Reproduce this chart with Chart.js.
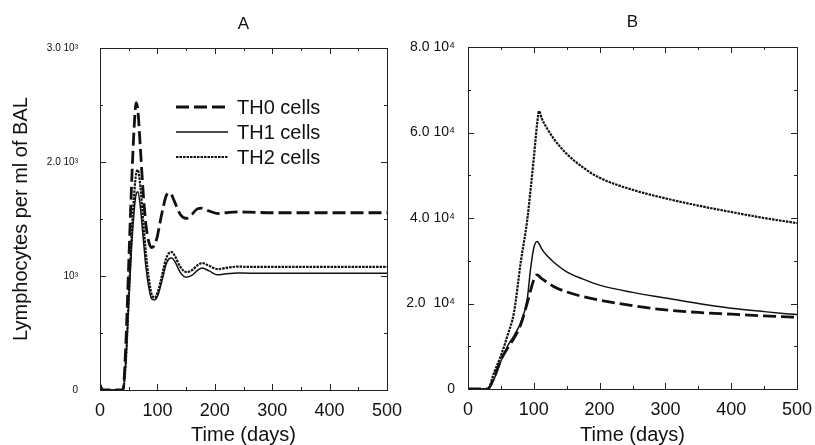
<!DOCTYPE html>
<html>
<head>
<title>TH cells</title>
<script src="https://cdn.jsdelivr.net/npm/chart.js"></script>
<style>
  body { margin: 0; background: #fff; }
  #chartA { position: absolute; left: 0; top: 0; }
  #chartB { position: absolute; left: 400px; top: 0; }
</style>
</head>
<body>
<canvas id="chartA" width="420" height="445"></canvas>
<canvas id="chartB" width="415" height="445"></canvas>
<script>
// ---- data ----
const seriesNames = ['TH0 cells', 'TH1 cells', 'TH2 cells'];

const timeA = [0, 5, 10, 40, 45, 50, 55, 60, 63, 66, 70, 75, 80, 85, 90, 95, 100, 105, 110, 115, 120, 125, 130, 140, 150, 160, 170, 178, 190, 205, 220, 240, 260, 300, 400, 500];
const th0A = [40, 0, 0, 0, 400, 1100, 1800, 2350, 2520, 2450, 2150, 1750, 1450, 1300, 1250, 1270, 1350, 1480, 1600, 1700, 1730, 1710, 1650, 1540, 1505, 1540, 1590, 1595, 1570, 1548, 1555, 1562, 1560, 1555, 1555, 1555];
const th1A = [50, 0, 0, 0, 250, 750, 1250, 1600, 1720, 1740, 1620, 1350, 1080, 900, 800, 790, 820, 900, 1000, 1100, 1150, 1158, 1130, 1030, 990, 1005, 1050, 1070, 1045, 1010, 1020, 1027, 1025, 1025, 1025, 1025];
const th2A = [50, 0, 0, 0, 250, 800, 1350, 1750, 1900, 1930, 1800, 1500, 1200, 980, 840, 810, 850, 940, 1050, 1150, 1200, 1210, 1180, 1080, 1035, 1050, 1095, 1114, 1090, 1060, 1072, 1082, 1080, 1080, 1080, 1080];

const timeB = [0, 20, 30, 40, 50, 60, 70, 80, 90, 95, 100, 105, 108, 112, 120, 130, 150, 175, 200, 250, 300, 350, 400, 450, 500];
const th0B = [0, 0, 0, 2800, 6800, 9500, 11900, 15000, 20100, 23000, 25500, 26700, 26400, 25800, 25000, 24000, 22700, 21600, 20800, 19500, 18500, 17900, 17500, 17100, 16800];
const th1B = [0, 0, 0, 2500, 6500, 10000, 12500, 15500, 21000, 28000, 33000, 34500, 34000, 32800, 31200, 29700, 27400, 25700, 24300, 22600, 21300, 20000, 18900, 18100, 17400];
const th2B = [0, 0, 0, 4000, 7800, 12500, 18000, 29500, 39500, 46500, 54000, 62000, 65000, 63300, 61000, 58600, 55000, 51800, 49400, 46600, 44600, 42900, 41400, 40000, 38800];

const xTickValues = [0, 100, 200, 300, 400, 500];
const yTickValuesA = [0, 1000, 2000, 3000];
const yTickLabelsA = ['0', '10\u00B3', '2.0 10\u00B3', '3.0 10\u00B3'];
const yTickValuesB = [0, 20000, 40000, 60000, 80000];
const yTickLabelsB = ['0', '2.0  10\u2074', '4.0 10\u2074', '6.0 10\u2074', '8.0 10\u2074'];

const FONT = "'Liberation Sans', Arial, Helvetica, sans-serif";
const INK = '#111';

function toPoints(xs, ys) {
  return xs.map((x, i) => ({ x: x, y: ys[i] }));
}

// styles per series: TH0 dashed, TH1 solid, TH2 dotted
const lineStyles = [
  { borderWidth: 2.8, borderDash: [13, 5] },
  { borderWidth: 1.5, borderDash: [] },
  { borderWidth: 2.2, borderDash: [2.5, 1] }
];

function makeDatasets(xs, seriesList) {
  return seriesList.map((ys, i) => ({
    label: seriesNames[i],
    data: toPoints(xs, ys),
    borderColor: INK,
    borderWidth: lineStyles[i].borderWidth,
    borderDash: lineStyles[i].borderDash,
    pointRadius: 0,
    fill: false,
    cubicInterpolationMode: 'monotone'
  }));
}

// box frame with inward ticks on all four sides
const framePlugin = {
  id: 'frame',
  afterDraw(chart, args, opts) {
    const { ctx, chartArea: a, scales } = chart;
    ctx.save();
    ctx.strokeStyle = '#222';
    ctx.lineWidth = 1;
    ctx.strokeRect(Math.round(a.left) + 0.5, Math.round(a.top) + 0.5, Math.round(a.right - a.left), Math.round(a.bottom - a.top));
    ctx.beginPath();
    for (let v = 0; v <= 500; v += 50) {
      const len = v % 100 === 0 ? 6 : 3;
      const px = Math.round(scales.x.getPixelForValue(v)) + 0.5;
      ctx.moveTo(px, a.bottom); ctx.lineTo(px, a.bottom - len);
      ctx.moveTo(px, a.top); ctx.lineTo(px, a.top + len);
    }
    for (let v = 0; v <= opts.yMax; v += opts.yMinor) {
      const len = v % opts.yMajor === 0 ? 6 : 3;
      const py = Math.round(scales.y.getPixelForValue(v)) + 0.5;
      ctx.moveTo(a.left, py); ctx.lineTo(a.left + len, py);
      ctx.moveTo(a.right, py); ctx.lineTo(a.right - len, py);
    }
    ctx.stroke();
    ctx.restore();
  }
};

// legend drawn inside the plot of panel A
const insideLegend = {
  id: 'insideLegend',
  afterDraw(chart, args, opts) {
    if (!opts.show) return;
    const { ctx, chartArea: a } = chart;
    ctx.save();
    ctx.font = '20px ' + FONT;
    ctx.fillStyle = INK;
    ctx.textBaseline = 'middle';
    chart.data.datasets.forEach((ds, i) => {
      const y = a.top + opts.top + i * opts.gap;
      ctx.strokeStyle = ds.borderColor;
      ctx.lineWidth = ds.borderWidth;
      ctx.setLineDash(ds.borderDash);
      ctx.beginPath();
      ctx.moveTo(a.left + opts.left, y);
      ctx.lineTo(a.left + opts.left + opts.lineLen, y);
      ctx.stroke();
      ctx.setLineDash([]);
      ctx.fillText(ds.label, a.left + opts.left + opts.lineLen + 9, y + 1);
    });
    ctx.restore();
  }
};

function makeChart(id, cfg) {
  return new Chart(document.getElementById(id), {
    type: 'line',
    data: { datasets: makeDatasets(cfg.time, cfg.series) },
    options: {
      responsive: false,
      animation: false,
      layout: { padding: { left: 0, right: cfg.padRight, top: 0, bottom: 0 } },
      scales: {
        x: {
          type: 'linear', min: 0, max: 500,
          grid: { display: false, drawTicks: false },
          border: { display: false },
          afterBuildTicks: s => { s.ticks = xTickValues.map(v => ({ value: v })); },
          afterFit: s => { s.height = cfg.xHeight; s.paddingLeft = 0; s.paddingRight = 0; },
          ticks: { color: INK, padding: 10, font: { family: FONT, size: 18 }, maxRotation: 0 },
          title: { display: true, text: 'Time (days)', color: INK, font: { family: FONT, size: 20, lineHeight: 1.0 }, padding: { top: 0, bottom: 0 } }
        },
        top: {
          type: 'linear', position: 'top', min: 0, max: 500,
          grid: { display: false, drawTicks: false },
          border: { display: false },
          ticks: { display: false },
          afterFit: s => { s.height = cfg.topHeight; s.paddingLeft = 0; s.paddingRight = 0; },
          title: { display: true, text: cfg.letter, color: INK, font: { family: FONT, size: 17 }, padding: { top: cfg.letterPad, bottom: 0 } }
        },
        y: {
          type: 'linear', min: 0, max: cfg.yMax,
          grid: { display: false, drawTicks: false },
          border: { display: false },
          afterBuildTicks: s => { s.ticks = cfg.yTicks.map(v => ({ value: v })); },
          afterFit: s => { s.width = cfg.yWidth; s.paddingTop = 0; s.paddingBottom = 0; },
          ticks: {
            color: INK, padding: cfg.yPad, font: { family: FONT, size: cfg.yFont },
            callback: v => cfg.yLabels[cfg.yTicks.indexOf(v)]
          },
          title: { display: !!cfg.yTitle, text: cfg.yTitle || '', color: INK, font: { family: FONT, size: 20 }, padding: { top: 9, bottom: 0 } }
        }
      },
      plugins: {
        legend: { display: false },
        tooltip: { enabled: false },
        frame: { yMax: cfg.yMax, yMajor: cfg.yMajor, yMinor: cfg.yMajor / 2 },
        insideLegend: { show: cfg.legend, left: 76, top: 59, gap: 25, lineLen: 52 }
      }
    },
    plugins: [framePlugin, insideLegend]
  });
}

makeChart('chartA', {
  time: timeA, series: [th0A, th1A, th2A],
  letter: 'A', letterPad: 14, topHeight: 48,
  yMax: 3000, yMajor: 1000, yTicks: yTickValuesA, yLabels: yTickLabelsA,
  yWidth: 100, yPad: 22, yFont: 10, yTitle: 'Lymphocytes per ml of BAL',
  xHeight: 55, padRight: 33, legend: true
});

makeChart('chartB', {
  time: timeB, series: [th0B, th1B, th2B],
  letter: 'B', letterPad: 12, topHeight: 47,
  yMax: 80000, yMajor: 20000, yTicks: yTickValuesB, yLabels: yTickLabelsB,
  yWidth: 68, yPad: 13, yFont: 14, yTitle: null,
  xHeight: 56, padRight: 18, legend: false
});
</script>
</body>
</html>
